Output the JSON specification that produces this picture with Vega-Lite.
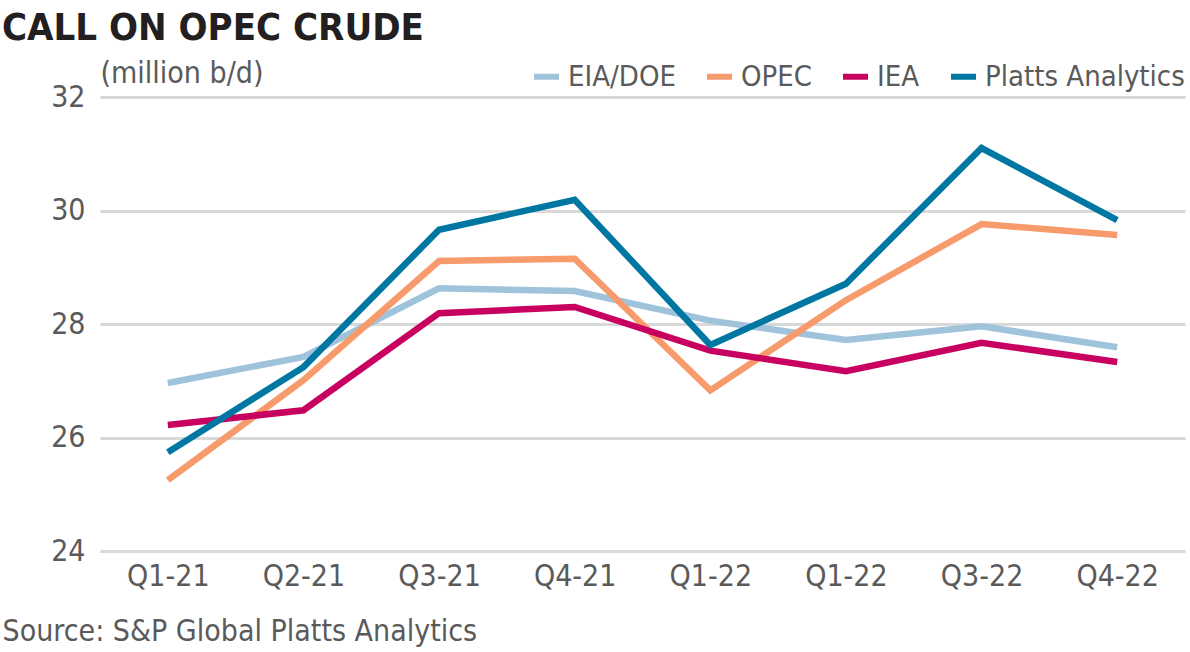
{
  "$schema": "https://vega.github.io/schema/vega-lite/v6.json",
  "autosize": "none",
  "width": 1085,
  "height": 454,
  "padding": {"left": 100, "top": 97, "right": 5, "bottom": 101},
  "background": "white",
  "title": {
    "text": "CALL ON OPEC CRUDE",
    "anchor": "start",
    "frame": "group",
    "dx": -98,
    "offset": 10,
    "fontSize": 38,
    "fontWeight": "bold",
    "font": "DejaVu Sans Condensed, sans-serif",
    "color": "#231f20"
  },
  "data": {
    "values": [
      {"slot": "Q1-21", "series": "EIA/DOE", "value": 26.96},
      {"slot": "Q2-21", "series": "EIA/DOE", "value": 27.42},
      {"slot": "Q3-21", "series": "EIA/DOE", "value": 28.63},
      {"slot": "Q4-21", "series": "EIA/DOE", "value": 28.58},
      {"slot": "Q1-22", "series": "EIA/DOE", "value": 28.06},
      {"slot": "Q1-22b", "series": "EIA/DOE", "value": 27.72},
      {"slot": "Q3-22", "series": "EIA/DOE", "value": 27.96},
      {"slot": "Q4-22", "series": "EIA/DOE", "value": 27.59},
      {"slot": "Q1-21", "series": "OPEC", "value": 25.25},
      {"slot": "Q2-21", "series": "OPEC", "value": 27.01},
      {"slot": "Q3-21", "series": "OPEC", "value": 29.11},
      {"slot": "Q4-21", "series": "OPEC", "value": 29.15},
      {"slot": "Q1-22", "series": "OPEC", "value": 26.83},
      {"slot": "Q1-22b", "series": "OPEC", "value": 28.42},
      {"slot": "Q3-22", "series": "OPEC", "value": 29.76},
      {"slot": "Q4-22", "series": "OPEC", "value": 29.57},
      {"slot": "Q1-21", "series": "IEA", "value": 26.22},
      {"slot": "Q2-21", "series": "IEA", "value": 26.48},
      {"slot": "Q3-21", "series": "IEA", "value": 28.19},
      {"slot": "Q4-21", "series": "IEA", "value": 28.30},
      {"slot": "Q1-22", "series": "IEA", "value": 27.53},
      {"slot": "Q1-22b", "series": "IEA", "value": 27.17},
      {"slot": "Q3-22", "series": "IEA", "value": 27.67},
      {"slot": "Q4-22", "series": "IEA", "value": 27.33},
      {"slot": "Q1-21", "series": "Platts Analytics", "value": 25.74},
      {"slot": "Q2-21", "series": "Platts Analytics", "value": 27.24},
      {"slot": "Q3-21", "series": "Platts Analytics", "value": 29.66},
      {"slot": "Q4-21", "series": "Platts Analytics", "value": 30.19},
      {"slot": "Q1-22", "series": "Platts Analytics", "value": 27.63},
      {"slot": "Q1-22b", "series": "Platts Analytics", "value": 28.71},
      {"slot": "Q3-22", "series": "Platts Analytics", "value": 31.10},
      {"slot": "Q4-22", "series": "Platts Analytics", "value": 29.83}
    ]
  },
  "mark": {"type": "line", "strokeWidth": 6.5, "strokeJoin": "miter", "strokeCap": "butt"},
  "encoding": {
    "x": {
      "field": "slot",
      "type": "ordinal",
      "sort": ["Q1-21", "Q2-21", "Q3-21", "Q4-21", "Q1-22", "Q1-22b", "Q3-22", "Q4-22"],
      "scale": {"type": "point", "padding": 0.5},
      "axis": {
        "labelExpr": "replace(datum.label, 'b', '')",
        "labelAngle": 0,
        "labelFontSize": 30,
        "labelFont": "DejaVu Sans Condensed, sans-serif",
        "labelColor": "#5a5a5a",
        "labelPadding": 10,
        "domain": false,
        "ticks": false,
        "grid": false,
        "title": "Source: S&P Global Platts Analytics",
        "titleFontSize": 30,
        "titleFont": "DejaVu Sans Condensed, sans-serif",
        "titleFontWeight": "normal",
        "titleColor": "#5a5a5a",
        "titleAlign": "left",
        "titleAnchor": "start",
        "titleBaseline": "alphabetic",
        "titleX": -98,
        "titleY": 89
      }
    },
    "y": {
      "field": "value",
      "type": "quantitative",
      "scale": {"domain": [24, 32], "zero": false, "nice": false},
      "axis": {
        "values": [24, 26, 28, 30, 32],
        "labelFontSize": 30,
        "labelFont": "DejaVu Sans Condensed, sans-serif",
        "labelColor": "#5a5a5a",
        "labelPadding": 15,
        "domain": false,
        "ticks": false,
        "gridColor": "#d9d9d9",
        "gridWidth": 3,
        "title": "(million b/d)",
        "titleAngle": 0,
        "titleFontSize": 30,
        "titleFont": "DejaVu Sans Condensed, sans-serif",
        "titleFontWeight": "normal",
        "titleColor": "#5a5a5a",
        "titleAlign": "left",
        "titleBaseline": "alphabetic",
        "titleX": 0,
        "titleY": -15
      }
    },
    "color": {
      "field": "series",
      "type": "nominal",
      "scale": {
        "domain": ["EIA/DOE", "OPEC", "IEA", "Platts Analytics"],
        "range": ["#a0c3dc", "#f79b6c", "#c8005f", "#0077a2"]
      },
      "legend": {
        "title": null,
        "orient": "none",
        "direction": "horizontal",
        "legendX": 431,
        "legendY": -36,
        "symbolType": "stroke",
        "symbolSize": 625,
        "symbolStrokeWidth": 6,
        "labelFontSize": 29,
        "labelFont": "DejaVu Sans Condensed, sans-serif",
        "labelColor": "#5a5a5a",
        "labelOffset": 6,
        "columnPadding": 19,
        "labelLimit": 400
      }
    }
  },
  "config": {"view": {"stroke": null}}
}
